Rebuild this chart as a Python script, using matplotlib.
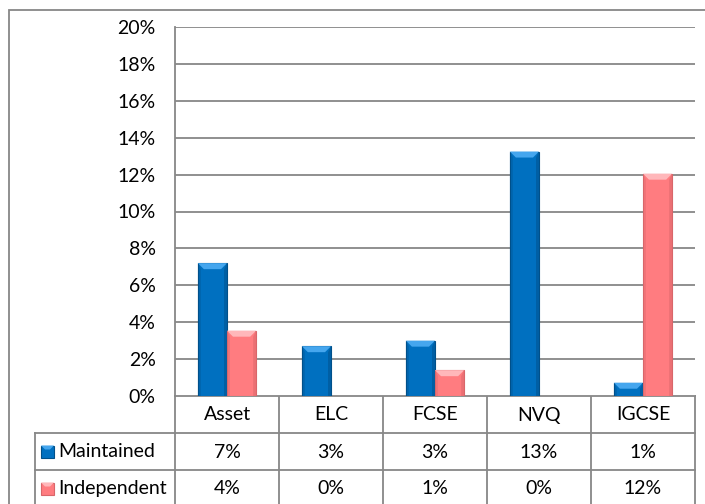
import numpy as np
import matplotlib.pyplot as plt
from matplotlib.patches import Rectangle, Polygon

plt.rcParams['font.family'] = ['Lato', 'DejaVu Sans']

# Dane
categories = ['Asset', 'ELC', 'FCSE', 'NVQ', 'IGCSE']
series_names = ['Maintained', 'Independent']
maintained = [7.2, 2.7, 3.0, 13.25, 0.72]
independent = [3.54, 0.0, 1.4, 0.0, 12.05]
y_ticks = [0, 2, 4, 6, 8, 10, 12, 14, 16, 18, 20]

colors = {
    'Maintained': ('#0070c0', '#45a6ee', '#00508a'),
    'Independent': ('#ff7c80', '#ffb7ba', '#d9666a'),
}

W, H = 705, 504
FS = 14
fig = plt.figure(figsize=(W / 100, H / 100), dpi=100)


def fx(px):
    return px / W


def fy(py):
    return 1 - py / H


# Ramka wykresu
fig.patches.append(Rectangle((fx(9), fy(520)), fx(720) - fx(9), fy(10) - fy(520),
                             transform=fig.transFigure, fill=False,
                             edgecolor='#878787', lw=1.3))

ax = fig.add_axes([fx(175), fy(396), fx(695) - fx(175), fy(27) - fy(396)])
ax.set_xlim(0, len(categories))
ax.set_ylim(0, 20)
ax.set_yticks(y_ticks)
ax.set_yticklabels([f'{t}%' for t in y_ticks], fontsize=FS)
ax.set_xticks([])
ax.tick_params(axis='y', length=0, pad=14)
for s in ['top', 'right', 'bottom']:
    ax.spines[s].set_visible(False)
ax.spines['left'].set_color('#878787')
ax.spines['left'].set_linewidth(1.3)
ax.grid(axis='y', color='#878787', lw=1.3)
ax.set_axisbelow(True)

bar_w = 0.28
# rozmiar fazki w jednostkach danych (ok. 6 px)
bx = 6 / 104
by = 6 / 18.45


def bevel_bar(x0, h, name):
    main, light, dark = colors[name]
    if h <= 0:
        return
    # cień
    ax.add_patch(Rectangle((x0 + 0.012, -0.1), bar_w, h, color='#000000',
                           alpha=0.12, lw=0, zorder=2))
    ax.add_patch(Rectangle((x0, 0), bar_w, h, facecolor=main,
                           edgecolor=dark, lw=0.8, zorder=3))
    b = min(by, h / 2)
    # górna fazka
    ax.add_patch(Polygon([(x0, h), (x0 + bar_w, h), (x0 + bar_w - bx, h - b), (x0 + bx, h - b)],
                         closed=True, facecolor=light, edgecolor='none', zorder=4))
    # boki
    ax.add_patch(Polygon([(x0, 0), (x0, h), (x0 + bx * 0.5, h - b), (x0 + bx * 0.5, 0)],
                         closed=True, facecolor=dark, alpha=0.35, edgecolor='none', zorder=4))
    ax.add_patch(Polygon([(x0 + bar_w, 0), (x0 + bar_w, h), (x0 + bar_w - bx * 0.5, h - b),
                          (x0 + bar_w - bx * 0.5, 0)],
                         closed=True, facecolor=dark, alpha=0.5, edgecolor='none', zorder=4))


x = np.arange(len(categories)) + 0.5
for i in range(len(categories)):
    bevel_bar(x[i] - bar_w, maintained[i], 'Maintained')
    bevel_bar(x[i], independent[i], 'Independent')

# Tabela danych
tab = fig.add_axes([0, 0, 1, 1], zorder=-1)
tab.set_xlim(0, W)
tab.set_ylim(H, 0)
tab.axis('off')
lc = '#878787'
col_edges = np.linspace(175, 695, len(categories) + 1)
row_edges = [396, 433, 470, 507]
tab.plot([175, 695], [396, 396], color=lc, lw=1.3)
for ry in row_edges[1:]:
    tab.plot([35, 695], [ry, ry], color=lc, lw=1.3)
for cx in col_edges:
    tab.plot([cx, cx], [396, 507], color=lc, lw=1.3)
tab.plot([35, 35], [433, 507], color=lc, lw=1.3)

for i, c in enumerate(categories):
    cx = (col_edges[i] + col_edges[i + 1]) / 2
    tab.text(cx, 415, c, ha='center', va='center', fontsize=FS)
    tab.text(cx, 452, f'{round(maintained[i])}%', ha='center', va='center', fontsize=FS)
    tab.text(cx, 489, f'{round(independent[i])}%', ha='center', va='center', fontsize=FS)

for j, name in enumerate(series_names):
    ym = (row_edges[j + 1] + row_edges[j + 2]) / 2
    main, light, dark = colors[name]
    tab.add_patch(Rectangle((41, ym - 6), 13, 12, facecolor=main, edgecolor=dark, lw=0.8))
    tab.add_patch(Polygon([(41, ym - 6), (54, ym - 6), (50, ym - 2), (45, ym - 2)],
                          closed=True, facecolor=light, edgecolor='none'))
    tab.text(58, ym, name, ha='left', va='center', fontsize=FS)

fig.savefig('out.png', dpi=100)
